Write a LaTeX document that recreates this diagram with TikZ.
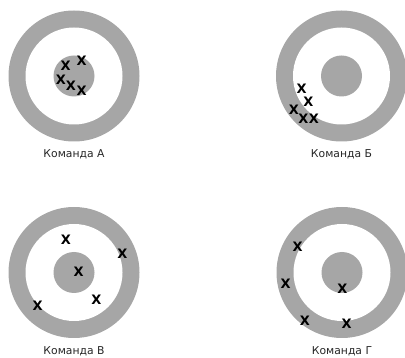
\documentclass[tikz,border=0pt]{standalone}
\usepackage{fontspec}
\setmainfont{DejaVu Sans}
\usepackage{xcolor}
\usetikzlibrary{positioning}

\definecolor{ringgray}{RGB}{166,166,166}

\begin{document}
\begin{tikzpicture}[
    x=1pt, y=-1pt,
    outerring/.style={
        circle,
        fill=ringgray,
        minimum size=131pt,
        inner sep=0pt
    },
    whitering/.style={
        circle,
        fill=white,
        minimum size=97pt,
        inner sep=0pt
    },
    bull/.style={
        circle,
        fill=ringgray,
        minimum size=41pt,
        inner sep=0pt
    },
    hit/.style={font=\fontsize{13}{13}\selectfont\bfseries, inner sep=0pt},
    teamlabel/.style={font=\fontsize{10.8}{12}\selectfont, inner sep=0pt, text=black!85}
]

\useasboundingbox (0,0) rectangle (405,358);

% targets
\foreach \name/\cx/\cy in {A/74/76, B/341.5/76, C/74/272.5, D/342/272.5}{
    \node[outerring] (t\name) at (\cx,\cy) {};
    \node[whitering] (w\name) at (t\name) {};
    \node[bull] (b\name) at (t\name) {};
}

% team names
\node[teamlabel, below=8pt of tA] (lA) {Команда А};
\node[teamlabel, below=8pt of tB] (lB) {Команда Б};
\node[teamlabel, below=8pt of tC] (lC) {Команда В};
\node[teamlabel, below=8pt of tD] (lD) {Команда Г};

% hits
\foreach \px/\py [count=\i] in {65.7/65.7, 81.7/61, 61/79.3, 71/85.7, 81.7/90.7}
    \node[hit] (hA\i) at (\px,\py) {X};
\foreach \px/\py [count=\i] in {301.7/88.3, 308.3/101.7, 294/109.3, 303.3/118.5, 314/118.5}
    \node[hit] (hB\i) at (\px,\py) {X};
\foreach \px/\py [count=\i] in {66/240, 122.3/253.3, 78.7/271.7, 96.3/299.3, 37.7/306}
    \node[hit] (hC\i) at (\px,\py) {X};
\foreach \px/\py [count=\i] in {297.7/246.7, 285.7/283.3, 342.3/288.3, 305/320.5, 346.7/324}
    \node[hit] (hD\i) at (\px,\py) {X};

\end{tikzpicture}
\end{document}
